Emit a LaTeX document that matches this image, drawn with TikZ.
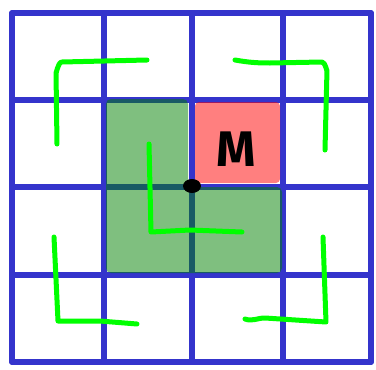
\documentclass[tikz,border=0pt]{standalone}
\usepackage{tikz}
\usepackage{fontspec}
\newfontfamily\handfont{Fira Sans}
\definecolor{gridblue}{HTML}{3434CC}
\definecolor{brightgreen}{HTML}{00FF00}
\definecolor{darkgreen}{HTML}{008000}
\tikzset{
  gridline/.style={draw=gridblue, line width=5.5pt, line cap=round},
  stroke/.style={draw=brightgreen, line width=5pt, line cap=round, line join=round},
  label/.style={font=\handfont\bfseries\fontsize{50}{50}\selectfont, text=black, inner sep=0pt},
}
\begin{document}
\begin{tikzpicture}[x=1pt,y=-1pt]
\useasboundingbox (0,0) rectangle (376,370);
% grid
\foreach \x in {12,104,192,283,371} \draw[gridline] (\x,13) -- (\x,362);
\foreach \y in {13,100,187,275,362} \draw[gridline] (12,\y) -- (371,\y);
% red square
\fill[red, opacity=0.5, rounded corners=4pt] (195,102) rectangle (280,183);
% green L region
\fill[darkgreen, opacity=0.5, rounded corners=5pt] (106,99) -- (188,99) -- (188,187) -- (282,187) -- (282,273) -- (106,273) -- cycle;
% green strokes
\draw[stroke] (57,144) -- (56,72) to[out=-90,in=180] (62,62) -- (147,60);
\draw[stroke] (235,60) to[out=-10,in=180] (270,63) -- (322,62) to[out=0,in=-90] (327,70) -- (325,150);
\draw[stroke] (149,144) -- (151,232) -- (190,230) -- (242,232);
\draw[stroke] (54,237) -- (58,321) -- (100,321) -- (137,324);
\draw[stroke] (245,319) to[out=-20,in=180] (265,318) -- (326,322) -- (323,237);
% dot
\fill[black] (192,186) ellipse (9pt and 7pt);
% M
\node[label, anchor=base] (m) at (236,166) {M};
\end{tikzpicture}
\end{document}
